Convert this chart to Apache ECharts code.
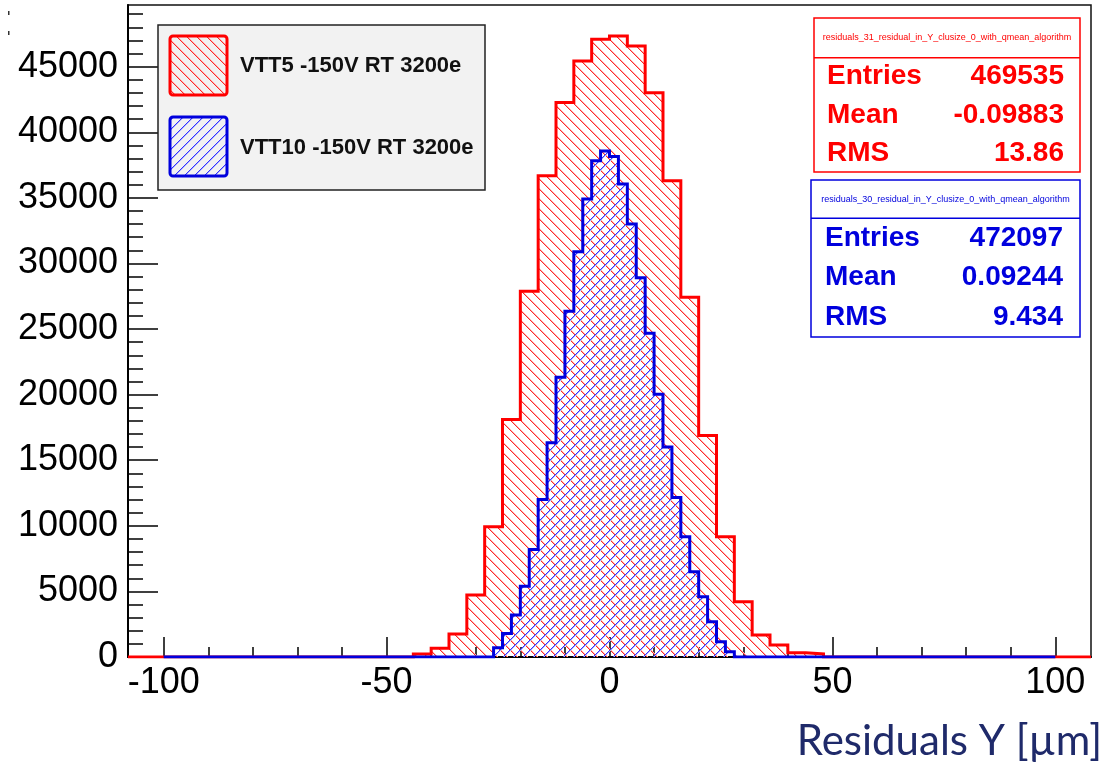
<!DOCTYPE html>
<html>
<head>
<meta charset="utf-8">
<script src="https://cdn.jsdelivr.net/npm/echarts@6/dist/echarts.min.js"></script>
<style>
  html, body { margin: 0; padding: 0; background: #fff; }
  #chart { width: 1117px; height: 763px; }
</style>
</head>
<body>
<div id="chart"></div>
<script>
// VTT5 residuals: 4 um bins, histogram range -108..108
const redRange = [-108, 108];
const redBinWidth = 4;
const redFirstEdge = -44;
const redCounts = [230, 660, 1750, 4720, 9920, 18110, 27880, 36680, 42260, 45430, 47080,
                   47340, 46580, 43020, 36300, 27420, 16890, 9170, 4210, 1670, 910, 330, 230];

// VTT10 residuals: 2 um bins, histogram range -100..100
const blueRange = [-100, 100];
const blueBinWidth = 2;
const blueFirstEdge = -26;
const blueCounts = [710, 1800, 3200, 5400, 8200, 12000, 16340, 21330, 26350, 30900, 34910, 37820,
                    38580, 38150, 36050, 33010, 28900, 24680, 20020, 16000, 12150, 9160, 6490,
                    4590, 2690, 1160, 400];

const xRange = [-108, 108];
const yRange = [0, 49700];
const xMajorTicks = [-100, -50, 0, 50, 100];
const xMinorTicks = [-100, -90, -80, -70, -60, -50, -40, -30, -20, -10, 0, 10, 20, 30, 40, 50, 60, 70, 80, 90, 100];
const yMajorTicks = [0, 5000, 10000, 15000, 20000, 25000, 30000, 35000, 40000, 45000];
const yMinorTicks = [];
for (let v = 0; v <= 49000; v += 1000) yMinorTicks.push(v);

const legendLabels = ['VTT5 -150V RT 3200e', 'VTT10 -150V RT 3200e'];
const statTitles = ['residuals_31_residual_in_Y_clusize_0_with_qmean_algorithm',
                    'residuals_30_residual_in_Y_clusize_0_with_qmean_algorithm'];
const statNames = ['Entries', 'Mean', 'RMS'];
const redStats = ['469535', '-0.09883', '13.86'];
const blueStats = ['472097', '0.09244', '9.434'];
const xTitle = 'Residuals Y [\u00b5m]';

const RED = '#ff0000';
const BLUE = '#0000dd';
const FONT = '"Liberation Sans", Arial, Helvetica, sans-serif';

// diagonal hatch tile with a soft two-pixel line: 'down' gives "\" lines, 'up' gives "/" lines
function hatchTile(core, edge, size, dir) {
  const c = document.createElement('canvas');
  c.width = size; c.height = size;
  const g = c.getContext('2d');
  const img = g.createImageData(size, size);
  const put = (x, y, rgb) => {
    const p = (y * size + ((x % size) + size) % size) * 4;
    img.data[p] = rgb[0]; img.data[p + 1] = rgb[1]; img.data[p + 2] = rgb[2]; img.data[p + 3] = 255;
  };
  for (let i = 0; i < size; i++) {
    const x = dir === 'down' ? i : size - 1 - i;
    put(x, i, core);
    put(x + 1, i, edge);
  }
  g.putImageData(img, 0, 0);
  return c;
}
const redHatch = { image: hatchTile([255, 40, 40], [255, 175, 175], 10, 'down'), repeat: 'repeat' };
const blueHatch = { image: hatchTile([50, 50, 255], [175, 175, 255], 10, 'up'), repeat: 'repeat' };

// outline points of a histogram: low edge of each bin with its count, closed to the baseline
function histPoints(range, firstEdge, width, counts) {
  const pts = [[range[0], 0]];
  counts.forEach((c, i) => pts.push([firstEdge + i * width, c]));
  pts.push([firstEdge + counts.length * width, 0]);
  pts.push([range[1], 0]);
  return pts;
}

const tickStyle = { color: '#000', width: 1.5 };
const hidden = { show: false };

function valueAxis(range, extra) {
  return Object.assign({
    type: 'value', min: range[0], max: range[1],
    splitLine: hidden, axisPointer: hidden
  }, extra);
}

const grid = { left: 128, right: 26, top: 5, bottom: 106, show: true,
               borderColor: '#111', borderWidth: 1.5, backgroundColor: '#fff' };

function statBox(x, y, w, h, sep, color, title, values, labelX, valueX) {
  const els = [
    { type: 'rect', shape: { x: x, y: y, width: w, height: h },
      style: { fill: '#fff', stroke: color, lineWidth: 1.5 } },
    { type: 'line', shape: { x1: x, y1: sep, x2: x + w, y2: sep },
      style: { stroke: color, lineWidth: 1.5 } },
    { type: 'text', x: x + w / 2, y: (y + sep) / 2,
      style: { text: title, fill: color, font: '9px ' + FONT, align: 'center', verticalAlign: 'middle' } }
  ];
  const rowH = (y + h - sep) / 3;
  statNames.forEach((name, i) => {
    const cy = sep + rowH * (i + 0.5);
    els.push({ type: 'text', x: labelX, y: cy,
      style: { text: name, fill: color, font: 'bold 28px ' + FONT, align: 'left', verticalAlign: 'middle' } });
    els.push({ type: 'text', x: valueX, y: cy,
      style: { text: values[i], fill: color, font: 'bold 28px ' + FONT, align: 'right', verticalAlign: 'middle' } });
  });
  return els;
}

const graphics = [
  // legend
  { type: 'rect', shape: { x: 158, y: 25, width: 327, height: 165 },
    style: { fill: '#f2f2f2', stroke: '#222', lineWidth: 1.5 } },
  { type: 'rect', shape: { x: 170, y: 36, width: 57, height: 59, r: 3 },
    style: { fill: redHatch, stroke: RED, lineWidth: 3 } },
  { type: 'rect', shape: { x: 170, y: 117, width: 57, height: 59, r: 3 },
    style: { fill: blueHatch, stroke: BLUE, lineWidth: 3 } },
  { type: 'text', x: 240, y: 66,
    style: { text: legendLabels[0], fill: '#111', font: 'bold 22px ' + FONT, verticalAlign: 'middle' } },
  { type: 'text', x: 240, y: 148,
    style: { text: legendLabels[1], fill: '#111', font: 'bold 22px ' + FONT, verticalAlign: 'middle' } },
  // axis title
  { type: 'text', x: 1102, y: 741,
    style: { text: xTitle, fill: '#1f2a6a', font: '42px Lato, "Open Sans", sans-serif',
             align: 'right', verticalAlign: 'middle' } },
  // small marks in the top-left corner
  { type: 'rect', shape: { x: 8, y: 11, width: 1.5, height: 4 }, style: { fill: '#333' } },
  { type: 'rect', shape: { x: 8, y: 31, width: 1.5, height: 4 }, style: { fill: '#333' } }
]
  .concat(statBox(814, 18, 266, 154, 57.7, RED, statTitles[0], redStats, 827, 1064))
  .concat(statBox(811, 180, 269, 157, 218.3, BLUE, statTitles[1], blueStats, 825, 1063))
  .map(e => Object.assign({ z: 100, silent: true }, e));

const plainNumber = v => String(v);

const option = {
  animation: false,
  backgroundColor: '#fff',
  grid: grid,
  xAxis: [
    valueAxis(xRange, {
      position: 'bottom',
      axisLine: { show: true, onZero: false, lineStyle: { color: '#000', width: 2 } },
      axisTick: { show: true, inside: true, length: 20, lineStyle: tickStyle, customValues: xMajorTicks },
      axisLabel: { show: true, customValues: xMajorTicks, color: '#000', fontSize: 36,
                   fontFamily: FONT, margin: 8, formatter: plainNumber }
    }),
    valueAxis(xRange, {
      position: 'bottom',
      axisLine: { show: false, onZero: false },
      axisTick: { show: true, inside: true, length: 10, lineStyle: tickStyle, customValues: xMinorTicks },
      axisLabel: hidden
    })
  ],
  yAxis: [
    valueAxis(yRange, {
      position: 'left',
      axisLine: { show: true, onZero: false, lineStyle: { color: '#000', width: 2 } },
      axisTick: { show: true, inside: true, length: 30, lineStyle: tickStyle, customValues: yMajorTicks },
      axisLabel: { show: true, customValues: yMajorTicks, color: '#000', fontSize: 36,
                   fontFamily: FONT, margin: 10, formatter: plainNumber }
    }),
    valueAxis(yRange, {
      position: 'left',
      axisLine: { show: false, onZero: false },
      axisTick: { show: true, inside: true, length: 15, lineStyle: tickStyle, customValues: yMinorTicks },
      axisLabel: hidden
    })
  ],
  series: [
    {
      name: legendLabels[0], type: 'line', step: 'end', xAxisIndex: 0, yAxisIndex: 0,
      data: histPoints(redRange, redFirstEdge, redBinWidth, redCounts),
      symbol: 'none', silent: true, z: 3,
      lineStyle: { color: RED, width: 3, join: 'miter' },
      areaStyle: { color: redHatch, opacity: 1 }
    },
    {
      name: legendLabels[1], type: 'line', step: 'end', xAxisIndex: 0, yAxisIndex: 0,
      data: histPoints(blueRange, blueFirstEdge, blueBinWidth, blueCounts),
      symbol: 'none', silent: true, z: 4,
      lineStyle: { color: BLUE, width: 3, join: 'miter' },
      areaStyle: { color: blueHatch, opacity: 1 }
    }
  ],
  graphic: graphics
};

const chart = echarts.init(document.getElementById('chart'), null, { renderer: 'canvas' });
chart.setOption(option);
</script>
</body>
</html>
